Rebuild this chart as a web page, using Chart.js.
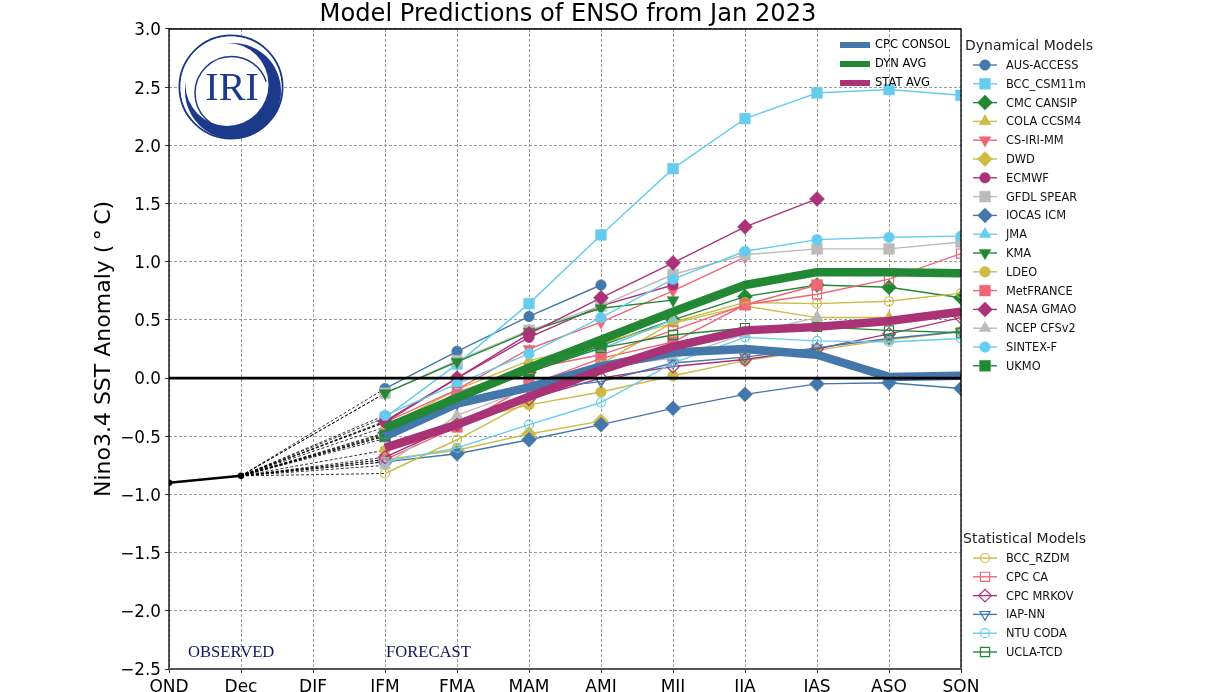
<!DOCTYPE html>
<html><head><meta charset="utf-8">
<style>html,body{margin:0;padding:0;background:#fff;overflow:hidden}canvas{display:block}</style>
<script src="https://cdn.jsdelivr.net/npm/chart.js@4"></script>
</head><body><canvas id="c" width="1231" height="692"></canvas>
<script>
const seasons = ['OND','Dec','DJF','JFM','FMA','MAM','AMJ','MJJ','JJA','JAS','ASO','SON'];
const yTicks = [-2.5,-2,-1.5,-1,-0.5,0,0.5,1,1.5,2,2.5,3];
const _ = null;
const OBSERVED  = [-0.90,-0.84,_,_,_,_,_,_,_,_,_,_];
const AUS_ACCESS = [_,_,_,-0.09,0.23,0.53,0.80,_,_,_,_,_];
const BCC_CSM11m = [_,_,_,-0.34,0.12,0.64,1.23,1.80,2.23,2.45,2.48,2.43];
const CMC_CANSIP = [_,_,_,-0.47,-0.17,0.05,0.28,0.50,0.70,0.80,0.78,0.69];
const COLA_CCSM4 = [_,_,_,-0.42,-0.10,0.15,0.30,0.47,0.62,0.52,0.52,0.55];
const CS_IRI_MM  = [_,_,_,-0.38,-0.10,0.25,0.48,0.75,1.04,_,_,_];
const DWD        = [_,_,_,-0.70,-0.62,-0.48,-0.37,_,_,_,_,_];
const ECMWF      = [_,_,_,-0.38,0.00,0.35,0.62,0.80,_,_,_,_];
const GFDL_SPEAR = [_,_,_,-0.13,0.15,0.41,0.62,0.89,1.06,1.11,1.11,1.17];
const IOCAS_ICM  = [_,_,_,-0.72,-0.65,-0.53,-0.40,-0.26,-0.14,-0.05,-0.04,-0.09];
const JMA        = [_,_,_,-0.52,-0.20,0.08,0.25,0.50,_,_,_,_];
const KMA        = [_,_,_,-0.13,0.14,0.40,0.60,0.67,_,_,_,_];
const LDEO       = [_,_,_,-0.62,-0.38,-0.23,-0.12,0.02,0.15,0.24,0.33,0.40];
const MetFRANCE  = [_,_,_,-0.70,-0.42,-0.06,0.17,0.31,0.63,0.80,_,_];
const NASA_GMAO  = [_,_,_,-0.37,0.00,0.38,0.69,0.99,1.30,1.54,_,_];
const NCEP_CFSv2 = [_,_,_,-0.75,-0.32,-0.09,0.10,0.17,0.38,0.52,_,_];
const SINTEX_F   = [_,_,_,-0.32,-0.05,0.21,0.52,0.85,1.09,1.19,1.21,1.22];
const UKMO       = [_,_,_,-0.50,-0.18,0.05,0.28,_,_,_,_,_];
const BCC_RZDM   = [_,_,_,-0.82,-0.53,-0.20,0.12,0.48,0.65,0.64,0.66,0.73];
const CPC_CA     = [_,_,_,-0.48,-0.12,0.08,0.20,0.41,0.63,0.72,0.85,1.07];
const CPC_MRKOV  = [_,_,_,-0.68,-0.40,-0.18,0.00,0.10,0.16,0.25,0.38,0.52];
const IAP_NN     = [_,_,_,-0.50,-0.22,-0.10,-0.03,0.13,0.18,0.26,0.34,0.40];
const NTU_CODA   = [_,_,_,-0.72,-0.60,-0.40,-0.21,0.13,0.35,0.32,0.31,0.34];
const UCLA_TCD   = [_,_,_,-0.49,-0.20,0.05,0.26,0.37,0.43,0.44,0.41,0.39];
const CPC_CONSOL = [_,_,_,-0.50,-0.22,-0.08,0.10,0.22,0.25,0.20,0.01,0.02];
const DYN_AVG    = [_,_,_,-0.43,-0.17,0.09,0.33,0.57,0.80,0.91,0.91,0.90];
const STAT_AVG   = [_,_,_,-0.60,-0.40,-0.16,0.07,0.27,0.41,0.44,0.49,0.57];

const BLUE='#4477aa',CYAN='#66ccee',GREEN='#228833',GOLD='#ccbb44',RED='#ee6677',PURPLE='#aa3377',GRAY='#bbbbbb';
const dyn = [
 ['AUS-ACCESS',AUS_ACCESS,BLUE,'circle'],['BCC_CSM11m',BCC_CSM11m,CYAN,'rect'],['CMC CANSIP',CMC_CANSIP,GREEN,'rectRot'],
 ['COLA CCSM4',COLA_CCSM4,GOLD,'triangle'],['CS-IRI-MM',CS_IRI_MM,RED,'triDown'],['DWD',DWD,GOLD,'rectRot'],
 ['ECMWF',ECMWF,PURPLE,'circle'],['GFDL SPEAR',GFDL_SPEAR,GRAY,'rect'],['IOCAS ICM',IOCAS_ICM,BLUE,'rectRot'],
 ['JMA',JMA,CYAN,'triangle'],['KMA',KMA,GREEN,'triDown'],['LDEO',LDEO,GOLD,'circle'],
 ['MetFRANCE',MetFRANCE,RED,'rect'],['NASA GMAO',NASA_GMAO,PURPLE,'rectRot'],['NCEP CFSv2',NCEP_CFSv2,GRAY,'triangle'],
 ['SINTEX-F',SINTEX_F,CYAN,'circle'],['UKMO',UKMO,GREEN,'rect']];
const stat = [
 ['BCC_RZDM',BCC_RZDM,GOLD,'circle'],['CPC CA',CPC_CA,RED,'rect'],['CPC MRKOV',CPC_MRKOV,PURPLE,'rectRot'],
 ['IAP-NN',IAP_NN,BLUE,'triDown'],['NTU CODA',NTU_CODA,CYAN,'circle'],['UCLA-TCD',UCLA_TCD,GREEN,'rect']];
const avgs = [['CPC CONSOL',CPC_CONSOL,BLUE],['DYN AVG',DYN_AVG,GREEN],['STAT AVG',STAT_AVG,PURPLE]];

const radius = {circle:5.3,rect:7.6,rectRot:7.5,triangle:6.8,triDown:6.8};
const openScale = 0.85;
function chartStyle(s){return s==='triDown'?'triangle':s;}
function modelSet(m,open){
  const [label,data,color,shape]=m;
  return {label,data,borderColor:color,borderWidth:1.4,tension:0,
    pointStyle:chartStyle(shape),pointRotation:shape==='triDown'?180:0,pointRadius:radius[shape]*(open?openScale:1),
    pointBackgroundColor:open?'rgba(0,0,0,0)':color,pointBorderColor:color,pointBorderWidth:open?1.2:0.5};
}
const sets=[];
[...dyn,...stat].forEach(m=>{
  sets.push({label:m[0]+' lead',data:seasons.map((c,i)=>i===1?OBSERVED[1]:(i===3?m[1][3]:null)),spanGaps:true,
    borderColor:'#000',borderWidth:0.8,borderDash:[3,2],pointRadius:0});
});
dyn.forEach(m=>sets.push(modelSet(m,false)));
stat.forEach(m=>sets.push(modelSet(m,true)));
avgs.forEach(a=>sets.push({label:a[0],data:a[1],borderColor:a[2],borderWidth:8.5,pointRadius:0,borderCapStyle:'butt',borderJoinStyle:'round'}));
sets.push({label:'Observed',data:OBSERVED,borderColor:'#000',borderWidth:2.6,pointRadius:2,pointBackgroundColor:'#000',pointBorderColor:'#000'});
sets.forEach((s,i)=>{s.order=sets.length-i;s.clip=0;});

function drawLegendRow(ctx,x0,y,label,color,shape,open){
  ctx.save();
  ctx.strokeStyle=color;ctx.lineWidth=1.4;
  ctx.beginPath();ctx.moveTo(x0,y);ctx.lineTo(x0+24,y);ctx.stroke();
  ctx.fillStyle=open?'rgba(0,0,0,0)':color;ctx.lineWidth=open?1.2:0.5;
  Chart.helpers.drawPoint(ctx,{pointStyle:chartStyle(shape),rotation:shape==='triDown'?180:0,radius:radius[shape]*(open?openScale:1),borderWidth:ctx.lineWidth},x0+12,y);
  ctx.fillStyle='#111';ctx.font='11.4px "DejaVu Sans"';ctx.textBaseline='middle';ctx.textAlign='left';
  ctx.fillText(label,x0+33,y+1);
  ctx.restore();
}
function drawLogo(ctx){
  const navy='#1c3a8a';
  ctx.save();
  ctx.strokeStyle=navy;ctx.lineWidth=2;ctx.beginPath();ctx.arc(231,87,51.5,0,Math.PI*2);ctx.stroke();
  ctx.fillStyle='#fff';ctx.beginPath();ctx.arc(231,87,50.5,0,Math.PI*2);ctx.fill();
  ctx.fillStyle=navy;ctx.beginPath();ctx.arc(233,91,48,0,Math.PI*2);ctx.fill();
  ctx.fillStyle='#fff';ctx.beginPath();ctx.arc(227,84.4,41.5,0,Math.PI*2);ctx.fill();
  ctx.strokeStyle=navy;ctx.lineWidth=1.5;ctx.beginPath();ctx.arc(231.5,93,36.5,Math.PI*0.5,Math.PI*1.9);ctx.stroke();
  ctx.fillStyle=navy;ctx.font='40px "Liberation Serif"';ctx.textAlign='center';ctx.textBaseline='alphabetic';
  ctx.fillText('IRI',232,100);
  ctx.restore();
}
const overlay={id:'overlay',
  afterLayout(chart){chart.titleBlock.left+=3;chart.titleBlock.right+=3;},
  afterDatasetsDraw(chart){
    const {ctx,chartArea:a,scales:{y}}=chart;
    ctx.save();
    const y0=y.getPixelForValue(0);
    ctx.strokeStyle='#000';ctx.lineWidth=2.6;ctx.beginPath();ctx.moveTo(a.left,y0);ctx.lineTo(a.right,y0);ctx.stroke();
    ctx.fillStyle='#fff';ctx.fillRect(a.right+1,a.top,270,a.bottom-a.top+8);
    ctx.lineWidth=1.3;ctx.beginPath();ctx.moveTo(a.left,a.bottom);ctx.lineTo(a.left,a.top);ctx.lineTo(a.right,a.top);ctx.lineTo(a.right,a.bottom);ctx.stroke();
    ctx.strokeStyle='#555';ctx.lineWidth=2;ctx.beginPath();ctx.moveTo(a.left,a.bottom);ctx.lineTo(a.right,a.bottom);ctx.stroke();
    drawLogo(ctx);
    ctx.fillStyle='#14145e';ctx.font='16.6px "Liberation Serif"';ctx.textBaseline='alphabetic';ctx.textAlign='left';
    ctx.fillText('OBSERVED',188,657);ctx.fillText('FORECAST',386,657);
    avgs.forEach((m,i)=>{
      const yy=45+i*19;
      ctx.strokeStyle=m[2];ctx.lineWidth=6;ctx.beginPath();ctx.moveTo(840,yy);ctx.lineTo(870,yy);ctx.stroke();
      ctx.fillStyle='#000';ctx.font='11.5px "DejaVu Sans"';ctx.textBaseline='middle';ctx.fillText(m[0],875,yy+0.5);
    });
    ctx.fillStyle='#222';ctx.font='14px "DejaVu Sans"';ctx.textBaseline='middle';
    ctx.fillText('Dynamical Models',965,46);
    ctx.fillText('Statistical Models',963,539);
    ctx.restore();
    dyn.forEach((m,i)=>drawLegendRow(ctx,973,65+i*18.8,m[0],m[2],m[3],false));
    stat.forEach((m,i)=>drawLegendRow(ctx,973,558+i*18.8,m[0],m[2],m[3],true));
  }};

new Chart(document.getElementById('c'),{
  type:'line',
  data:{labels:seasons,datasets:sets},
  plugins:[overlay],
  options:{responsive:false,animation:false,events:[],
    layout:{padding:{left:91,right:270,top:0,bottom:0}},
    plugins:{legend:{display:false},tooltip:{enabled:false},
      title:{display:true,text:'Model Predictions of ENSO from Jan 2023',fullSize:false,color:'#000',
        font:{family:'"DejaVu Sans"',size:24.15,weight:'normal'},padding:{top:0,bottom:0}}},
    scales:{
      x:{type:'category',offset:false,
        afterFit(s){s.height=23;},
        grid:{color:'#808080',lineWidth:0.8,tickColor:'#000',tickBorderDash:[],tickLength:4},
        border:{display:false,dash:[3,2]},
        ticks:{autoSkip:false,maxRotation:0,color:'#000',padding:4,font:{family:'"DejaVu Sans"',size:17}}},
      y:{min:-2.5,max:3,
        afterFit(s){
          s.width=78;
          if(!s._shifted){ // centre tick text on the tick as in the reference
            s._shifted=true;const orig=s._computeLabelItems;
            s._computeLabelItems=function(a){const it=orig.call(this,a);it.forEach(t=>{t.textOffset+=2;});return it;};
          }
        },
        afterBuildTicks(s){s.ticks=yTicks.map(v=>({value:v}));},
        title:{display:true,text:'Nino3.4 SST Anomaly (\u2009\u00B0\u2009C)',color:'#000',padding:0,
          font:{family:'"DejaVu Sans"',size:22,weight:'normal'}},
        grid:{color:'#808080',lineWidth:0.8,tickColor:'#000',tickBorderDash:[],tickLength:4},
        border:{display:false,dash:[3,2]},
        ticks:{color:'#000',padding:4,font:{family:'"DejaVu Sans"',size:16.8},
          callback:v=>v.toFixed(1).replace('-','\u2212')}}
    }}
});
</script></body></html>
